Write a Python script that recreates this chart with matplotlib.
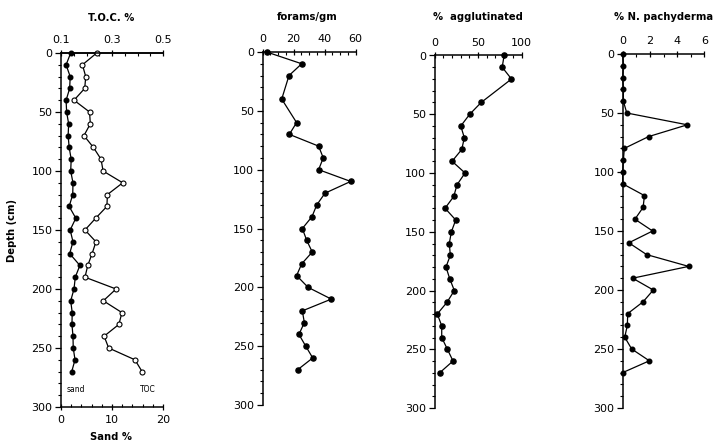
import matplotlib
matplotlib.use("Agg")
import matplotlib.pyplot as plt
from matplotlib.ticker import MultipleLocator, FixedLocator

# ---------------- data ----------------
depth_all = [0, 10, 20, 30, 40, 50, 60, 70, 80, 90, 100, 110, 120, 130, 140,
             150, 160, 170, 180, 190, 200, 210, 220, 230, 240, 250, 260, 270]
toc = [0.24, 0.184, 0.197, 0.193, 0.151, 0.212, 0.215, 0.19, 0.227, 0.257,
       0.265, 0.342, 0.282, 0.28, 0.236, 0.194, 0.237, 0.222, 0.205, 0.194,
       0.316, 0.266, 0.339, 0.327, 0.269, 0.287, 0.39, 0.418]
sand = [1.9, 1.0, 1.8, 1.7, 1.0, 1.1, 1.5, 1.4, 1.6, 2.0, 1.9, 2.35, 2.3, 1.6,
        2.9, 1.8, 2.35, 1.7, 3.7, 2.8, 2.55, 1.9, 2.2, 2.15, 2.35, 2.4, 2.75, 2.1]

depth_forams = [0, 10, 20, 40, 60, 70, 80, 90, 100, 110, 120, 130, 140, 150,
                160, 170, 180, 190, 200, 210, 220, 230, 240, 250, 260, 270]
forams = [2.7, 25.3, 17.1, 12.4, 22.0, 17.3, 36.2, 39.2, 36.2, 56.9, 40.3, 35.0,
          31.9, 25.7, 28.5, 32.1, 25.3, 22.0, 29.4, 44.4, 25.7, 27.0, 23.5,
          27.9, 32.4, 22.7]

depth_aggl = [0, 10, 20, 40, 50, 60, 70, 80, 90, 100, 110, 120, 130, 140, 150,
              160, 170, 180, 190, 200, 210, 220, 230, 240, 250, 260, 270]
aggl = [80, 77.8, 88.5, 53.6, 40.5, 30.2, 34.3, 31.3, 20.2, 35.1, 25.9, 22.1,
        12.1, 24.4, 19.4, 17.0, 18.2, 13.2, 17.5, 22.8, 14.4, 3.2, 8.3, 8.3,
        14.8, 21.3, 6.0]

pachy = [0.0, 0.05, 0.0, 0.05, 0.05, 0.3, 4.75, 1.9, 0.12, 0.05, 0.0, 0.0, 1.6,
         1.5, 0.9, 2.2, 0.45, 1.76, 4.85, 0.73, 2.25, 1.5, 0.37, 0.34, 0.15,
         0.66, 1.96, 0.0]

depth_ticks = [0, 50, 100, 150, 200, 250, 300]

# ---------------- figure ----------------
W, H = 717, 444
fig = plt.figure(figsize=(W / 100, H / 100), dpi=100)
plt.rcParams['font.family'] = ['DejaVu Sans']


def rect(l, r, t, b):
    return [l / W, 1 - b / H, (r - l) / W, (b - t) / H]


FS = 8
MS = 3.3


def style_depth(ax, bottom_spine=False):
    ax.set_ylim(300, 0)
    ax.yaxis.set_major_locator(FixedLocator(depth_ticks))
    ax.yaxis.set_minor_locator(MultipleLocator(10))
    ax.tick_params(axis='y', which='major', direction='out', length=4,
                   width=0.9, labelsize=FS, pad=2)
    ax.tick_params(axis='y', which='minor', direction='out', length=2,
                   width=0.8)
    ax.spines['right'].set_visible(False)
    ax.spines['bottom'].set_visible(bottom_spine)
    ax.spines['left'].set_linewidth(1.1)
    ax.spines['top'].set_linewidth(1.1)


def style_top(ax, xmin, xmax, major, minor):
    ax.set_xlim(xmin, xmax)
    ax.xaxis.set_ticks_position('top')
    ax.xaxis.set_label_position('top')
    ax.xaxis.set_major_locator(FixedLocator(major))
    ax.xaxis.set_minor_locator(MultipleLocator(minor))
    ax.tick_params(axis='x', which='major', direction='inout', length=5,
                   width=0.9, labelsize=FS, pad=3, top=True, bottom=False,
                   labeltop=True, labelbottom=False)
    ax.tick_params(axis='x', which='minor', direction='in', length=2.5,
                   width=0.8, top=True, bottom=False)


line_kw = dict(color='black', lw=0.9, clip_on=False)

# Panel 1: Sand (bottom) and TOC (top)
ax1 = fig.add_axes(rect(61, 163, 53, 407))
style_depth(ax1, bottom_spine=True)
ax1.set_xlim(0, 20)
ax1.xaxis.set_major_locator(FixedLocator([0, 10, 20]))
ax1.xaxis.set_minor_locator(MultipleLocator(2))
ax1.tick_params(axis='x', which='major', direction='inout', length=5,
                width=0.9, labelsize=FS, pad=3, top=False)
ax1.tick_params(axis='x', which='minor', direction='in', length=2.5,
                width=0.8, top=False)
ax1.spines['bottom'].set_linewidth(1.1)
ax1.plot(sand, depth_all, marker='o', ms=MS, mfc='black', mec='black',
         **line_kw)
ax1.text(3.0, 285, 'sand', fontsize=5.5, ha='center', va='center')
ax1.text(17.0, 285, 'TOC', fontsize=5.5, ha='center', va='center')

ax1t = ax1.twiny()
ax1t.set_ylim(300, 0)
for s in ['right', 'bottom', 'left']:
    ax1t.spines[s].set_visible(False)
ax1t.spines['top'].set_linewidth(1.1)
style_top(ax1t, 0.1, 0.5, [0.1, 0.3, 0.5], 0.05)
ax1t.plot(toc, depth_all, marker='o', ms=MS + 0.3, mfc='white', mec='black',
          mew=0.8, **line_kw)

# Panel 2: forams/gm
ax2 = fig.add_axes(rect(262.5, 355.5, 52, 405))
style_depth(ax2)
style_top(ax2, 0, 60, [0, 20, 40, 60], 5)
ax2.plot(forams, depth_forams, marker='o', ms=MS + 0.4, mfc='black',
         mec='black', **line_kw)

# Panel 3: % agglutinated
ax3 = fig.add_axes(rect(434.5, 521.5, 55.5, 408))
style_depth(ax3)
style_top(ax3, 0, 100, [0, 50, 100], 10)
ax3.plot(aggl, depth_aggl, marker='o', ms=MS + 0.4, mfc='black', mec='black',
         **line_kw)

# Panel 4: % N. pachyderma
ax4 = fig.add_axes(rect(622.7, 704.3, 54, 408))
style_depth(ax4)
style_top(ax4, 0, 6, [0, 2, 4, 6], 1)
ax4.plot(pachy, depth_all, marker='o', ms=MS, mfc='black', mec='black',
         **line_kw)

# Titles / labels
tkw = dict(fontsize=7.2, fontweight='bold', ha='center', va='center')
fig.text(111 / W, 1 - 18 / H, 'T.O.C. %', **tkw)
fig.text(307 / W, 1 - 17 / H, 'forams/gm', **tkw)
fig.text(478 / W, 1 - 17 / H, '%  agglutinated', **tkw)
fig.text(664 / W, 1 - 17 / H, '% N. pachyderma', **tkw)
fig.text(111 / W, 1 - 437 / H, 'Sand %', **tkw)
fig.text(12 / W, 1 - 230 / H, 'Depth (cm)', rotation=90, **tkw)

fig.savefig('out.png', dpi=100)
